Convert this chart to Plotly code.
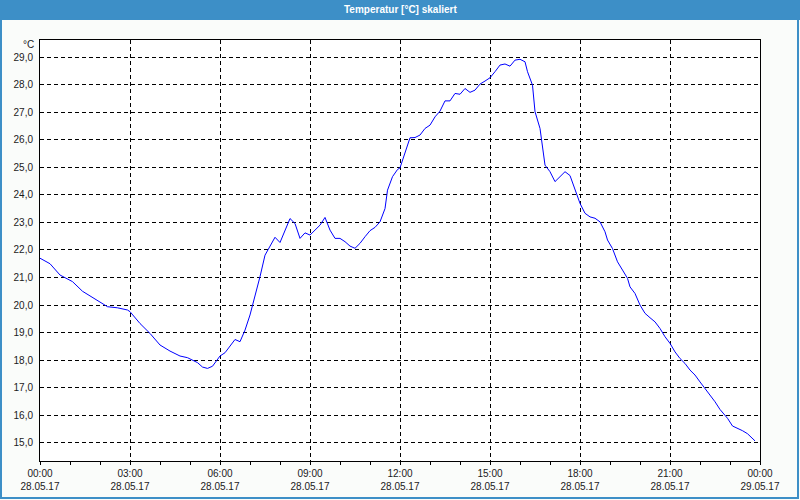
import plotly.graph_objects as go

# ---- data ----
DAY = "2017-05-28"
times = ["00:00","00:20","00:40","01:05","01:25","01:55","02:15","02:35","02:55","03:00",
         "03:20","03:40","04:00","04:20","04:40","04:55","05:15","05:25","05:35","05:45",
         "06:00","06:10","06:30","06:40","06:50","07:00","07:10","07:20","07:30","07:40",
         "07:50","08:00","08:10","08:20","08:30","08:40","08:50","09:00","09:10","09:20",
         "09:30","09:40","09:50","10:00","10:10","10:20","10:30","10:40","10:50","11:00",
         "11:10","11:20","11:30","11:35","11:45","11:55","12:00","12:10","12:20","12:30",
         "12:40","12:50","13:00","13:10","13:20","13:30","13:40","13:50","14:00","14:10",
         "14:20","14:30","14:40","14:50","15:00","15:10","15:20","15:30","15:40","15:50",
         "16:00","16:10","16:15","16:25","16:30","16:40","16:45","16:50","17:00","17:10",
         "17:20","17:30","17:40","17:50","18:00","18:10","18:20","18:30","18:40","18:50",
         "18:55","19:05","19:15","19:25","19:35","19:40","19:50","20:00","20:10","20:20",
         "20:30","20:40","20:50","21:00","21:10","21:20","21:30","21:40","21:50","22:00",
         "22:10","22:20","22:30","22:40","22:50","22:55","23:05","23:15","23:25","23:35",
         "23:45","23:50"]
temps = [21.70,21.50,21.09,20.85,20.50,20.18,19.94,19.90,19.82,19.76,
         19.33,18.97,18.55,18.33,18.15,18.09,17.91,17.75,17.70,17.78,
         18.15,18.27,18.75,18.67,19.09,19.64,20.30,21.03,21.81,22.12,
         22.46,22.27,22.72,23.14,22.96,22.42,22.62,22.54,22.72,22.90,
         23.18,22.72,22.42,22.42,22.30,22.14,22.06,22.24,22.48,22.70,
         22.82,23.02,23.50,24.17,24.66,24.92,24.98,25.56,26.07,26.08,
         26.17,26.41,26.53,26.83,27.04,27.41,27.41,27.68,27.65,27.86,
         27.72,27.80,28.02,28.13,28.25,28.47,28.71,28.75,28.67,28.89,
         28.92,28.83,28.47,27.98,27.02,26.41,25.74,25.08,24.84,24.48,
         24.66,24.84,24.70,24.17,23.69,23.33,23.20,23.15,23.02,22.66,
         22.36,22.05,21.57,21.27,20.97,20.66,20.42,20.00,19.70,19.54,
         19.39,19.15,18.85,18.61,18.30,18.06,17.88,17.64,17.46,17.21,
         16.97,16.77,16.49,16.21,16.00,15.89,15.61,15.53,15.44,15.33,
         15.15,15.07]
y_ticks = [15, 16, 17, 18, 19, 20, 21, 22, 23, 24, 25, 26, 27, 28, 29]
title_text = "Temperatur [°C] skaliert"
unit_text = "°C"

x = [f"{DAY} {t}" for t in times]

FONT = "Liberation Sans"
BLUE_BAR = "#3D8FC7"

fig = go.Figure()
fig.add_trace(go.Scatter(x=x, y=temps, mode="lines",
                         line=dict(color="#0000FF", width=1), hoverinfo="x+y"))

W, H = 800, 506
L, R, T, B = 40, 40, 40, 45
pw, ph = W - L - R, H - T - B

fig.update_layout(
    width=W, height=H,
    margin=dict(l=L, r=R, t=T, b=B),
    paper_bgcolor="#FAFCFA",
    plot_bgcolor="#FFFFFF",
    showlegend=False,
    separators=",.",
    font=dict(family=FONT, size=10, color="#1A1A1A"),
)

fig.update_xaxes(
    type="date",
    range=[f"{DAY} 00:00", "2017-05-29 00:00"],
    dtick=3 * 3600000,
    tick0=f"{DAY} 00:00",
    tickformat="%H:%M<br>%d.%m.%y",
    ticks="outside", ticklen=3, tickcolor="black",
    showline=True, linecolor="black", linewidth=1, mirror=True,
    showgrid=True, gridcolor="black", gridwidth=1, griddash="4px,3px",
    minor=dict(dtick=3600000, ticks="outside", ticklen=3, tickcolor="black", showgrid=False),
    zeroline=False,
)
fig.update_yaxes(
    range=[14.34, 29.62],
    tickvals=y_ticks,
    tickformat=".1f",
    ticks="", ticklabelstandoff=4,
    showline=True, linecolor="black", linewidth=1, mirror=True,
    showgrid=True, gridcolor="black", gridwidth=1, griddash="4px,3px",
    zeroline=False,
)

# title bar
fig.add_shape(type="rect", xref="paper", yref="paper",
              x0=-L / pw, x1=1 + R / pw, y0=1 + (T - 20) / ph, y1=1 + T / ph,
              fillcolor=BLUE_BAR, line=dict(width=0), layer="below")
# window border
fig.add_shape(type="rect", xref="paper", yref="paper",
              x0=-(L - 1) / pw, x1=1 + (R - 2) / pw, y0=-(B - 8) / ph, y1=1 + (T - 1) / ph,
              fillcolor="rgba(0,0,0,0)", line=dict(color=BLUE_BAR, width=2), layer="below")

fig.add_annotation(text=f"<b>{title_text}</b>", xref="paper", yref="paper",
                   x=0.5, y=1 + (T - 10) / ph, yanchor="middle", xanchor="center",
                   showarrow=False, font=dict(family=FONT, size=10, color="white"))
fig.add_annotation(text=unit_text, xref="paper", yref="paper",
                   x=0, y=1 - 4 / ph, xanchor="right", yanchor="middle", xshift=-4,
                   showarrow=False, font=dict(family=FONT, size=10, color="#1A1A1A"))

post = (
    "var d=document.documentElement,b=document.body;"
    "d.style.margin='0';d.style.padding='0';d.style.overflow='hidden';"
    "b.style.margin='0';b.style.padding='0';b.style.overflow='hidden';"
)
fig.write_html("out.html", config={"displayModeBar": False},
               post_script=post)
